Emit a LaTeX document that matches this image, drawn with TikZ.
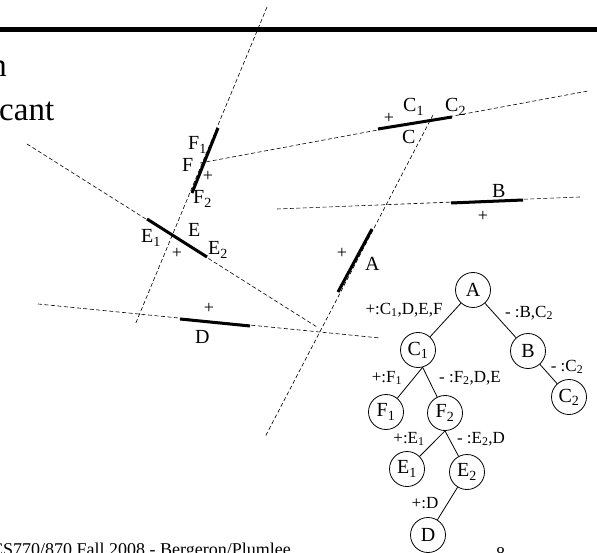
\documentclass[tikz,border=0pt]{standalone}
\usepackage{fontspec}
\setmainfont{Liberation Serif}
\usetikzlibrary{positioning}
\tikzset{
  cut/.style    = {dash pattern=on 4pt off 2.5pt, line width=0.6pt},
  seg/.style    = {line width=3pt},
  lbl/.style    = {font=\fontsize{20}{22}\selectfont, inner sep=0pt},
  sgn/.style    = {font=\fontsize{18}{20}\selectfont, inner sep=0pt},
  bsp/.style    = {circle, draw, line width=0.8pt, minimum size=35pt, inner sep=0pt,
                   font=\fontsize{20}{22}\selectfont},
  tedge/.style  = {line width=0.8pt},
  elbl/.style   = {font=\fontsize{17}{19}\selectfont, inner sep=0pt},
  slide/.style  = {font=\fontsize{33}{36}\selectfont, inner sep=0pt},
  foot/.style   = {font=\fontsize{18}{20}\selectfont, inner sep=0pt},
}
\newcommand{\lsub}[1]{\textsubscript{#1}}

\begin{document}
\begin{tikzpicture}[x=1pt,y=-1pt]
  \clip (0,0) rectangle (597,553);

  % slide leftovers
  \draw[line width=5pt] (0,29.5) -- (597,29.5);
  \node[slide, anchor=base east] (w1) at (7,77) {n};
  \node[slide, anchor=base west] (w2) at (-1,121) {cant};
  \node[foot, anchor=base west] (ft) at (-9,555) {CS770/870 Fall 2008 - Bergeron/Plumlee};
  \node[foot, anchor=base west] (pg) at (496,559) {8};

  % splitting lines
  \coordinate (fT) at (267,7);   \coordinate (fB) at (135,325);
  \coordinate (cL) at (200,163); \coordinate (cR) at (588,91);
  \coordinate (aT) at (433,115); \coordinate (aB) at (265,437);
  \coordinate (bL) at (277,209); \coordinate (bR) at (580,197);
  \coordinate (eL) at (27,144);  \coordinate (eR) at (317,327);
  \coordinate (dL) at (38,304);  \coordinate (dR) at (380,338);
  \draw[cut] (fT) -- (fB);
  \draw[cut] (cL) -- (cR);
  \draw[cut] (aT) -- (aB);
  \draw[cut] (bL) -- (bR);
  \draw[cut] (eL) -- (eR);
  \draw[cut] (dL) -- (dR);

  % segments
  \coordinate (f1) at (218,128); \coordinate (f2) at (192,193);
  \coordinate (c1) at (378,129); \coordinate (c2) at (452,117);
  \coordinate (a1) at (372,229); \coordinate (a2) at (338,292);
  \coordinate (b1) at (451,203); \coordinate (b2) at (523,200);
  \coordinate (e1) at (147,219); \coordinate (e2) at (207,257);
  \coordinate (d1) at (180,319); \coordinate (d2) at (250,326);
  \draw[seg] (f1) -- (f2);
  \draw[seg] (c1) -- (c2);
  \draw[seg] (a1) -- (a2);
  \draw[seg] (b1) -- (b2);
  \draw[seg] (e1) -- (e2);
  \draw[seg] (d1) -- (d2);

  \node[lbl, anchor=base west] (lF1) at (188,150) {F\lsub{1}};
  \node[lbl, anchor=base west] (lF)  at (182,172) {F};
  \node[lbl, anchor=base west] (lF2) at (193,204) {F\lsub{2}};
  \node[sgn] (pF) at (208,176) {+};
  \node[lbl, anchor=base west] (lE)  at (188,237) {E};
  \node[lbl, anchor=base west] (lE1) at (141,243) {E\lsub{1}};
  \node[lbl, anchor=base west] (lE2) at (208,255) {E\lsub{2}};
  \node[sgn] (pE) at (177,253) {+};
  \node[lbl, anchor=base west] (lA)  at (365,271) {A};
  \node[sgn] (pA) at (342,253) {+};
  \node[lbl, anchor=base west] (lD)  at (195,343) {D};
  \node[sgn] (pD) at (209,308) {+};
  \node[lbl, anchor=base west] (lC1) at (403,112) {C\lsub{1}};
  \node[lbl, anchor=base west] (lC)  at (402,144) {C};
  \node[lbl, anchor=base west] (lC2) at (445,112) {C\lsub{2}};
  \node[sgn] (pC) at (389,118) {+};
  \node[lbl, anchor=base west] (lB)  at (492,198) {B};
  \node[sgn] (pB) at (483,216) {+};

  % BSP tree
  \node[bsp] (tA)  at (473,290) {A};
  \node[bsp] (tC1) at (418,350) {C\lsub{1}};
  \node[bsp] (tB)  at (528,351) {B};
  \node[bsp] (tC2) at (569,397) {C\lsub{2}};
  \node[bsp] (tF1) at (386,412) {F\lsub{1}};
  \node[bsp] (tF2) at (445,413) {F\lsub{2}};
  \node[bsp] (tE1) at (407,469) {E\lsub{1}};
  \node[bsp] (tE2) at (467,472) {E\lsub{2}};
  \node[bsp] (tD)  at (428,535) {D};

  \draw[tedge] (tA) -- (tC1);
  \draw[tedge] (tA) -- (tB);
  \draw[tedge] (tB) -- (tC2);
  \draw[tedge] (tC1.-75) -- (tF1);
  \draw[tedge] (tC1.-75) -- (tF2);
  \draw[tedge] (tF2.south) -- (tE1);
  \draw[tedge] (tF2.south) -- (tE2);
  \draw[tedge] (tE2) -- (tD);

  \node[elbl] (eAC1)  at (404,310) {+:C\lsub{1},D,E,F};
  \node[elbl] (eAB)   at (529,313) {- :B,C\lsub{2}};
  \node[elbl] (eBC2)  at (567,367) {- :C\lsub{2}};
  \node[elbl] (eC1F1) at (387,378) {+:F\lsub{1}};
  \node[elbl] (eC1F2) at (470,378) {- :F\lsub{2},D,E};
  \node[elbl] (eF2E1) at (409,439) {+:E\lsub{1}};
  \node[elbl] (eF2E2) at (481,439) {- :E\lsub{2},D};
  \node[elbl] (eE2D)  at (425,503) {+:D};
\end{tikzpicture}
\end{document}
